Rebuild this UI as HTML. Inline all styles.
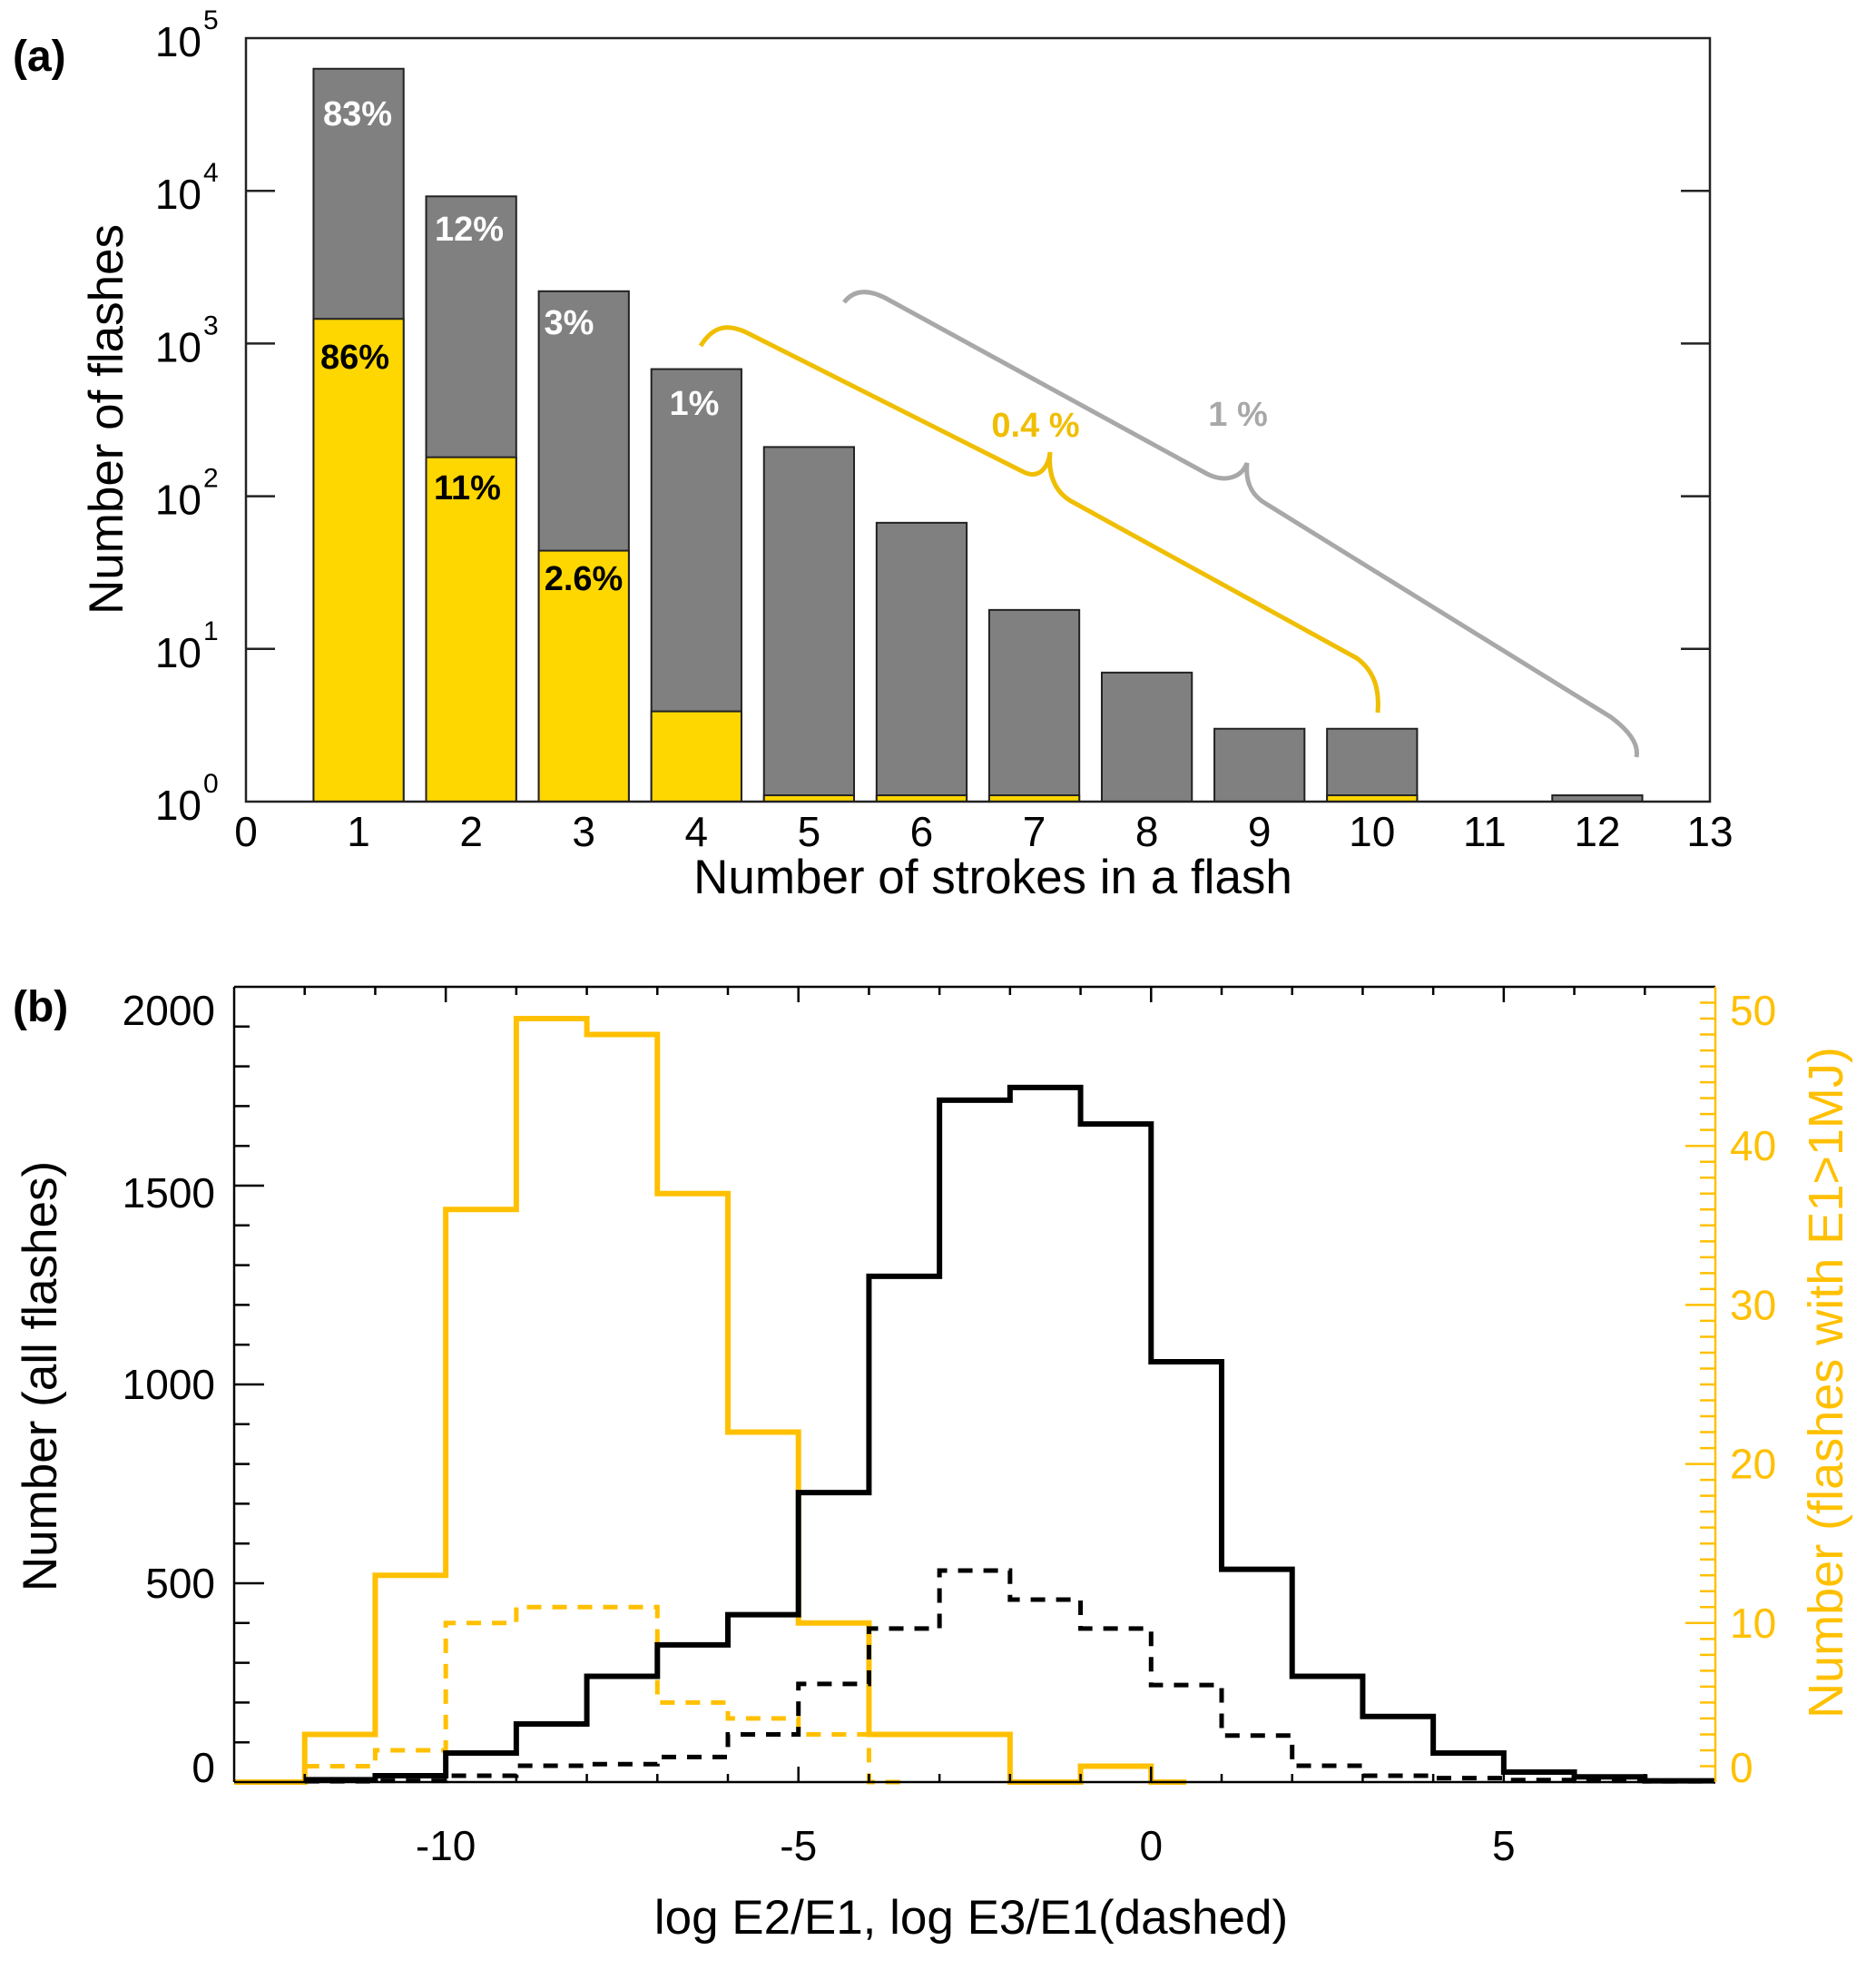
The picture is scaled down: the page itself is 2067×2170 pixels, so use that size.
<!DOCTYPE html>
<html><head><meta charset="utf-8"><style>
html,body{margin:0;padding:0;background:#fff;}
svg{display:block;font-family:"Liberation Sans",sans-serif;}
</style></head><body>
<svg id="fig" width="2067" height="2170" viewBox="0 0 2067 2170" xmlns="http://www.w3.org/2000/svg"></svg>
<script>
// ---- Panel (a) data ----
const strokeCats = [1,2,3,4,5,6,7,8,9,10,11,12];
const allFlashes = [63000,9200,2200,680,210,67,18,7,3,3,0,1.1];
const bigFlashes = [1450,180,44,3.9,1.1,1.1,1.1,0,0,1.1,0,0];
const xTicksA = [0,1,2,3,4,5,6,7,8,9,10,11,12,13];
const yDecadesA = [0,1,2,3,4,5];
// ---- Panel (b) data ----
const binEdges = [-12,-11,-10,-9,-8,-7,-6,-5,-4,-3,-2,-1,0,1,2,3,4,5,6,7,8];
const e2All = [6,16,73,146,266,345,421,728,1272,1715,1747,1655,1057,535,266,165,73,25,13,3];
const e3All = [2,3,16,41,45,63,120,247,386,532,459,386,244,117,41,16,10,5,3,2];
const big2Edges = [-13,-12,-11,-10,-9,-8,-7,-6,-5,-4,-3,-2,-1,0,0.5];
const e2Big = [0,3,13,36,48,47,37,22,10,3,3,0,1,0];
const big3Edges = [-12,-11,-10,-9,-8,-7,-6,-5,-4,-3.5];
const e3Big = [1,2,10,11,11,5,4,3,0];
const xTicksB = [-10,-5,0,5];
const yTicksB = [0,500,1000,1500,2000];
const yTicksR = [0,10,20,30,40,50];

const NS="http://www.w3.org/2000/svg";
const svg=document.getElementById('fig');
function mk(tag,attrs,parent){const e=document.createElementNS(NS,tag);for(const k in attrs)e.setAttribute(k,attrs[k]);(parent||svg).appendChild(e);return e;}
function txt(s,attrs,parent){const e=mk('text',attrs,parent);e.textContent=s;return e;}

// ===== Panel A =====
const A={l:271,r:1884,t:42,b:883};
const xA=v=>A.l+(v-0)*(A.r-A.l)/13;
const yA=v=>A.b-Math.log10(v)*(A.b-A.t)/5;
const ga=mk('g',{});


const bw=0.8*(A.r-A.l)/13;
strokeCats.forEach((c,i)=>{
  if(allFlashes[i]>1){
    const r=mk('rect',{x:xA(c)-bw/2,y:yA(allFlashes[i]),width:bw,height:A.b-yA(allFlashes[i]),fill:'#808080',stroke:'#222','stroke-width':2},ga);
    
    
  }
  if(bigFlashes[i]>1){
    const r=mk('rect',{x:xA(c)-bw/2,y:yA(bigFlashes[i]),width:bw,height:A.b-yA(bigFlashes[i]),fill:'#FFD700',stroke:'#222','stroke-width':2},ga);
    
    
  }
});
mk('rect',{x:A.l,y:A.t,width:A.r-A.l,height:A.b-A.t,fill:'none',stroke:'#222','stroke-width':2.5},ga);
yDecadesA.forEach(d=>{
  const y=A.b-d*(A.b-A.t)/5;
  if(d>0&&d<5){mk('line',{x1:A.l,x2:A.l+32,y1:y,y2:y,stroke:'#222','stroke-width':2.5},ga);
  mk('line',{x1:A.r,x2:A.r-32,y1:y,y2:y,stroke:'#222','stroke-width':2.5},ga);}
  const t=txt('10',{x:222,y:y+20,'font-size':46,'text-anchor':'end',fill:'#000'},ga);
  
  
  txt(String(d),{x:224,y:y-10,'font-size':30,fill:'#000'},ga);
});
xTicksA.forEach(v=>{
  const t=txt(String(v),{x:xA(v),y:932,'font-size':46,'text-anchor':'middle',fill:'#000'},ga);
  
  
});
let t=txt('Number of strokes in a flash',{x:1094,y:984,'font-size':53,'text-anchor':'middle',fill:'#000'},ga);

t=txt('Number of flashes',{x:0,y:0,'font-size':53,'text-anchor':'middle',fill:'#000',transform:'translate(135,462) rotate(-90)'},ga);

t=txt('(a)',{x:14,y:78,'font-size':48,'font-weight':'bold',fill:'#000'},ga);

const pcts=[['83%',394,138,'#fff'],['12%',517,265,'#fff'],['3%',627,368,'#fff'],['1%',765,457,'#fff'],['86%',391,406,'#000'],['11%',515,550,'#000'],['2.6%',643,650,'#000'],['0.4 %',1141,481,'#F0BE00'],['1 %',1364,469,'#A8A8A8']];
pcts.forEach(p=>{const e=txt(p[0],{x:p[1],y:p[2],'font-size':38,'font-weight':'bold','text-anchor':'middle',fill:p[3]},ga);
});
let br=mk('path',{d:'M772,381 C785,360 800,356 822,366 L1128,520 C1145,528 1155,515 1157,498 C1155,520 1160,540 1180,552 L1495,725 C1515,740 1520,760 1518,785',fill:'none',stroke:'#F0BE00','stroke-width':5},ga);

br=mk('path',{d:'M930,333 C940,320 955,318 975,328 L1330,522 C1350,532 1368,526 1374,510 C1372,530 1378,545 1395,555 L1775,790 C1795,805 1806,820 1803,834',fill:'none',stroke:'#A8A8A8','stroke-width':5},ga);


// ===== Panel B =====
const B={l:258,r:1890,t:1087,b:1963};
const xB=v=>B.l+(v+13)*(B.r-B.l)/21;
const yB=v=>B.b-v*(B.b-B.t)/2000;
const yR=v=>B.b-v*(B.b-B.t)/50;
const gb=mk('g',{});


function stepPath(edges,vals,yf){let d='';vals.forEach((v,i)=>{const y=yf(v);d+=(i?'L':'M')+xB(edges[i])+','+y+'L'+xB(edges[i+1])+','+y;});return d;}
let p=mk('path',{d:stepPath(big2Edges,e2Big,yR),fill:'none',stroke:'#FFC000','stroke-width':6},gb);

p=mk('path',{d:stepPath(big3Edges,e3Big,yR),fill:'none',stroke:'#FFC000','stroke-width':5,'stroke-dasharray':'16,12'},gb);

p=mk('path',{d:stepPath(binEdges,e3All,yB),fill:'none',stroke:'#000','stroke-width':5,'stroke-dasharray':'16,12'},gb);

p=mk('path',{d:stepPath(binEdges,e2All,yB),fill:'none',stroke:'#000','stroke-width':6},gb);

// frame
mk('line',{x1:B.l,x2:B.r,y1:B.t,y2:B.t,stroke:'#000','stroke-width':2.5},gb);
mk('line',{x1:B.l,x2:B.r,y1:B.b,y2:B.b,stroke:'#000','stroke-width':2.5},gb);
mk('line',{x1:B.l,x2:B.l,y1:B.t,y2:B.b,stroke:'#000','stroke-width':2.5},gb);
mk('line',{x1:B.r,x2:B.r,y1:B.t,y2:B.b,stroke:'#FFC000','stroke-width':2.5},gb);
for(let v=-12;v<=7;v++){const maj=v%5===0;const x=xB(v);
  mk('line',{x1:x,x2:x,y1:B.t,y2:B.t+(maj?17:9),stroke:'#000','stroke-width':2.5},gb);
  mk('line',{x1:x,x2:x,y1:B.b,y2:B.b-(maj?17:9),stroke:'#000','stroke-width':2.5},gb);}
for(let v=100;v<2000;v+=100){const maj=v%500===0;const y=yB(v);
  mk('line',{x1:B.l,x2:B.l+(maj?33:17),y1:y,y2:y,stroke:'#000','stroke-width':2.5},gb);}
for(let v=1;v<50;v++){const maj=v%10===0;const y=yR(v);
  mk('line',{x1:B.r,x2:B.r-(maj?33:17),y1:y,y2:y,stroke:'#FFC000','stroke-width':2.5},gb);}
yTicksB.forEach(v=>{const e=txt(String(v),{x:237,y:yB(v)+16-(v===2000?-26:0)+(v===0?-16:0)-(v===1500?-8:0),'font-size':46,'text-anchor':'end',fill:'#000'},gb);
});
yTicksR.forEach(v=>{const e=txt(String(v),{x:1906,y:yR(v)+16+(v===50?26:0)+(v===0?-16:0),'font-size':46,fill:'#FFC000'},gb);
});
xTicksB.forEach(v=>{const e=txt(String(v),{x:xB(v),y:2049,'font-size':46,'text-anchor':'middle',fill:'#000'},gb);
});
t=txt('log E2/E1, log E3/E1(dashed)',{x:1070,y:2130,'font-size':53,'text-anchor':'middle',fill:'#000'},gb);

t=txt('Number (all flashes)',{x:0,y:0,'font-size':53,'text-anchor':'middle',fill:'#000',transform:'translate(62,1516) rotate(-90)'},gb);

t=txt('Number (flashes with E1>1MJ)',{x:0,y:0,'font-size':54,'text-anchor':'middle',fill:'#FFC000',transform:'translate(2030,1523) rotate(-90)'},gb);

t=txt('(b)',{x:14,y:1125,'font-size':48,'font-weight':'bold',fill:'#000'},gb);

</script>
</body></html>
